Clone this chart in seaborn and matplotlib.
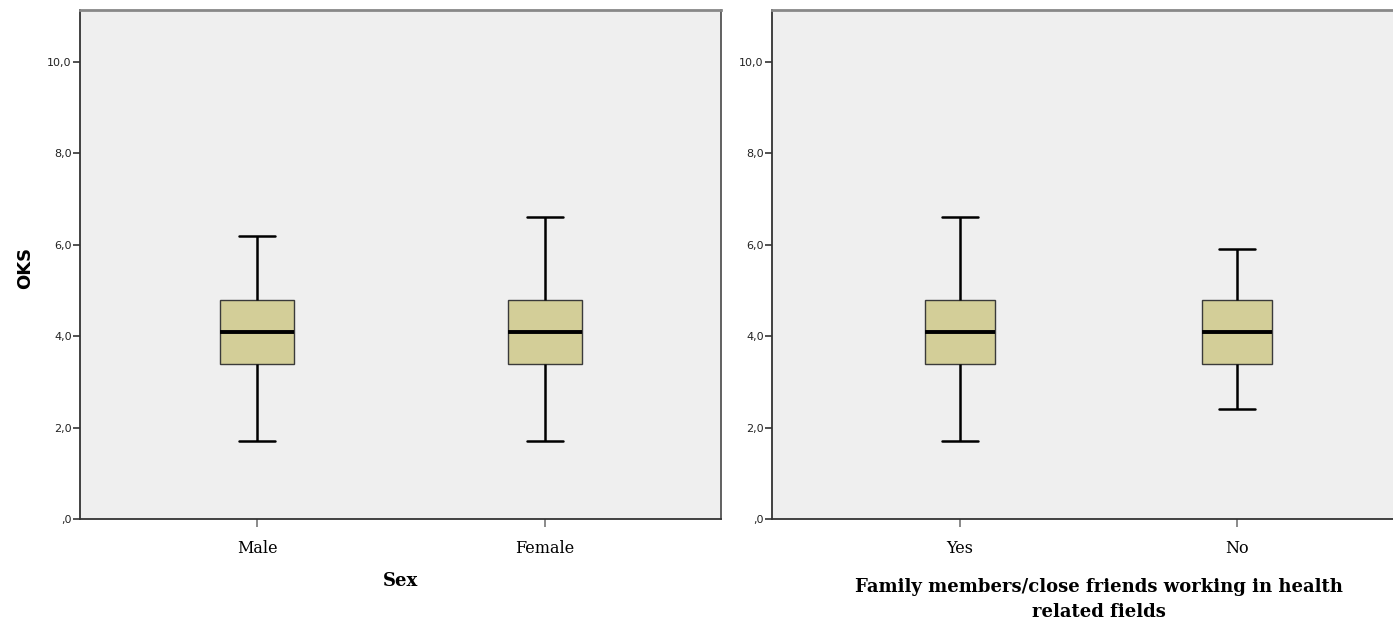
import pandas as pd
import seaborn as sns
import matplotlib.pyplot as plt
from matplotlib.ticker import FuncFormatter

# five-number summaries (min, Q1, median, Q3, max)
sex_groups = ['Male', 'Female']
male_vals = [1.7, 3.4, 4.1, 4.8, 6.2]
female_vals = [1.7, 3.4, 4.1, 4.8, 6.6]

family_groups = ['Yes', 'No']
yes_vals = [1.7, 3.4, 4.1, 4.8, 6.6]
no_vals = [2.4, 3.4, 4.1, 4.8, 5.9]

y_ticks = [0, 2, 4, 6, 8, 10]

df_sex = pd.DataFrame({'group': ['Male'] * 5 + ['Female'] * 5,
                       'OKS': male_vals + female_vals})
df_fam = pd.DataFrame({'group': ['Yes'] * 5 + ['No'] * 5,
                       'OKS': yes_vals + no_vals})

sns.set_style('white')
plt.rcParams['font.family'] = ['DejaVu Sans']

fig = plt.figure(figsize=(13.93, 6.27), dpi=100)
ax1 = fig.add_axes([80 / 1393, 108 / 627, 641 / 1393, 509 / 627])
ax2 = fig.add_axes([772 / 1393, 108 / 627, 653 / 1393, 509 / 627])

box_color = '#d3ce98'
line_kws = dict(
    boxprops=dict(edgecolor='#3a3a3a', linewidth=1.0),
    whiskerprops=dict(color='black', linewidth=1.8),
    capprops=dict(color='black', linewidth=1.8),
    medianprops=dict(color='black', linewidth=2.8),
)


def fmt(v, pos):
    s = f'{v:.1f}'.replace('.', ',')
    if s.startswith('0,'):
        s = s[1:]
    return s


for ax, df, order, xlab, xl, pad in [
    (ax1, df_sex, sex_groups, 'Sex', (-0.615, 1.611), 11),
    (ax2, df_fam, family_groups,
     'Family members/close friends working in health\nrelated fields', (-0.679, 1.679), 15),
]:
    ax.set_facecolor('#efefef')
    sns.boxplot(data=df, x='group', y='OKS', order=order, whis=(0, 100),
                color=box_color, saturation=1, width=0.255, showfliers=False,
                ax=ax, **line_kws)
    ax.set_xlim(*xl)
    ax.set_ylim(0, 11.14)
    ax.set_yticks(y_ticks)
    ax.yaxis.set_major_formatter(FuncFormatter(fmt))
    ax.tick_params(axis='y', left=True, length=5, width=1.2, color='#333333',
                   labelsize=8, labelcolor='#222222', pad=1)
    ax.tick_params(axis='x', bottom=True, length=6, width=1.2, color='#777777',
                   labelsize=11.5, labelcolor='black', pad=9)
    for lab in ax.get_xticklabels():
        lab.set_family('DejaVu Serif')
    ax.set_xlabel(xlab, family='DejaVu Serif', fontweight='bold', color='black',
                  fontsize=13, labelpad=pad, linespacing=1.5)
    ax.set_ylabel('')
    for side in ['left', 'bottom']:
        ax.spines[side].set_color('#333333')
        ax.spines[side].set_linewidth(1.3)
    ax.spines['top'].set_color('#888888')
    ax.spines['top'].set_linewidth(2)
    ax.spines['right'].set_color('#555555')
    ax.spines['right'].set_linewidth(1.3)

ax1.set_ylabel('OKS', fontweight='bold', fontsize=13, color='black')
ax1.yaxis.set_label_coords(-0.072, 0.493)

fig.savefig('out.png', dpi=100)
